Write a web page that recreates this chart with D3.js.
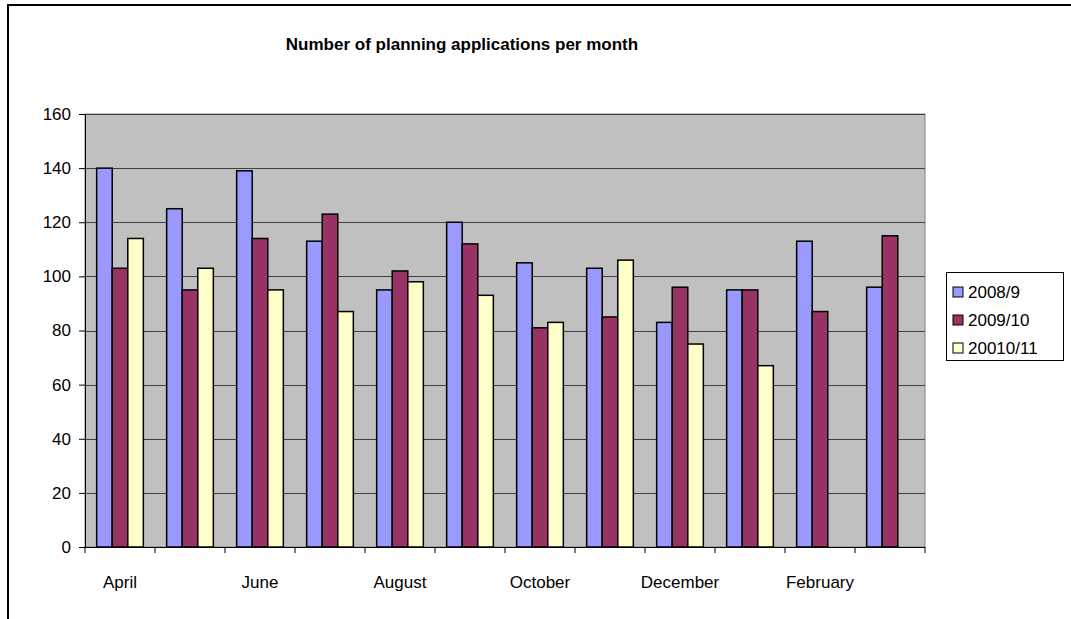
<!DOCTYPE html>
<html>
<head>
<meta charset="utf-8">
<script src="https://cdn.jsdelivr.net/npm/d3@7"></script>
<style>
  body { margin:0; background:#fff; }
  svg { display:block; font-family:"Liberation Sans", Arial, sans-serif; }
</style>
</head>
<body>
<svg id="chart" width="1071" height="619"></svg>
<script>
// --- data ---
const months = ["April","May","June","July","August","September","October","November","December","January","February","March"];
const seriesNames = ["2008/9","2009/10","20010/11"];
const y2008 = [140,125,139,113,95,120,105,103,83,95,113,96];
const y2009 = [103,95,114,123,102,112,81,85,96,95,87,115];
const y2010 = [114,103,95,87,98,93,83,106,75,67,null,null];
const yTicks = [0,20,40,60,80,100,120,140,160];
const colors = ["#9999FF","#993366","#FFFFCC"];

const seriesVals = [y2008, y2009, y2010];

const svg = d3.select("#chart");

// chart border (cropped at right/bottom in the reference)
svg.append("rect").attr("x",8).attr("y",5).attr("width",1100).attr("height",700)
  .attr("fill","#fff").attr("stroke","#000").attr("stroke-width",2);

// title
svg.append("text").attr("x",462).attr("y",50).attr("text-anchor","middle")
  .attr("font-size",17).attr("font-weight","bold").text("Number of planning applications per month");

// scales
const x0 = d3.scaleBand().domain(months).range([85,925]).padding(0);
const x1 = d3.scaleBand().domain(seriesNames).range([0,x0.bandwidth()]).paddingInner(0).paddingOuter(0.75);
const y = d3.scaleLinear().domain([0,160]).range([547,114]);

// plot area
svg.append("rect").attr("x",85).attr("y",y(160)).attr("width",840).attr("height",y(0)-y(160))
  .attr("fill","#C0C0C0").attr("stroke","#808080").attr("stroke-width",1);

// gridlines
svg.append("g").selectAll("line").data(yTicks.filter(d=>d>0)).join("line")
  .attr("x1",85).attr("x2",925)
  .attr("y1",d=>Math.round(y(d))+0.5).attr("y2",d=>Math.round(y(d))+0.5)
  .attr("stroke","#404040").attr("stroke-width",1);

// bars
const groups = svg.append("g").selectAll("g").data(months).join("g")
  .attr("transform",d=>`translate(${x0(d)},0)`);
groups.selectAll("rect")
  .data((m,i)=>seriesNames.map((s,k)=>({s, k, v: seriesVals[k][i]})).filter(d=>d.v!=null))
  .join("rect")
  .attr("x",d=>x1(d.s)).attr("width",x1.bandwidth())
  .attr("y",d=>y(d.v)).attr("height",d=>y(0)-y(d.v))
  .attr("fill",d=>colors[d.k]).attr("stroke","#000").attr("stroke-width",1.5);

// y axis
const yAxis = d3.axisLeft(y).tickValues(yTicks).tickSize(6).tickPadding(8);
const gy = svg.append("g").attr("transform","translate(85,0)").call(yAxis);
gy.select(".domain").attr("stroke","#000");
gy.selectAll("text").attr("font-size",17).attr("font-family","Liberation Sans, Arial, sans-serif").attr("fill","#000");

// x axis: ticks at category boundaries, labels on every other month
const gx = svg.append("g");
gx.append("line").attr("x1",85).attr("x2",925).attr("y1",547.5).attr("y2",547.5).attr("stroke","#000");
gx.selectAll("line.t").data(months.concat(["end"])).join("line").attr("class","t")
  .attr("x1",(d,i)=>85+i*x0.step()).attr("x2",(d,i)=>85+i*x0.step())
  .attr("y1",547).attr("y2",553).attr("stroke","#000");
gx.selectAll("text").data(months.filter((d,i)=>i%2===0)).join("text")
  .attr("x",d=>x0(d)+x0.bandwidth()/2).attr("y",588)
  .attr("text-anchor","middle").attr("font-size",17).text(d=>d);

// legend
const lg = svg.append("g");
lg.append("rect").attr("x",946.5).attr("y",272.5).attr("width",117).attr("height",88)
  .attr("fill","#fff").attr("stroke","#000").attr("stroke-width",1);
const items = lg.selectAll("g").data(seriesNames).join("g")
  .attr("transform",(d,i)=>`translate(953,${292+i*28})`);
items.append("rect").attr("x",0).attr("y",-5).attr("width",10).attr("height",10)
  .attr("fill",(d,i)=>colors[i]).attr("stroke","#000");
items.append("text").attr("x",15).attr("y",6).attr("font-size",17).text(d=>d);
</script>
</body>
</html>
